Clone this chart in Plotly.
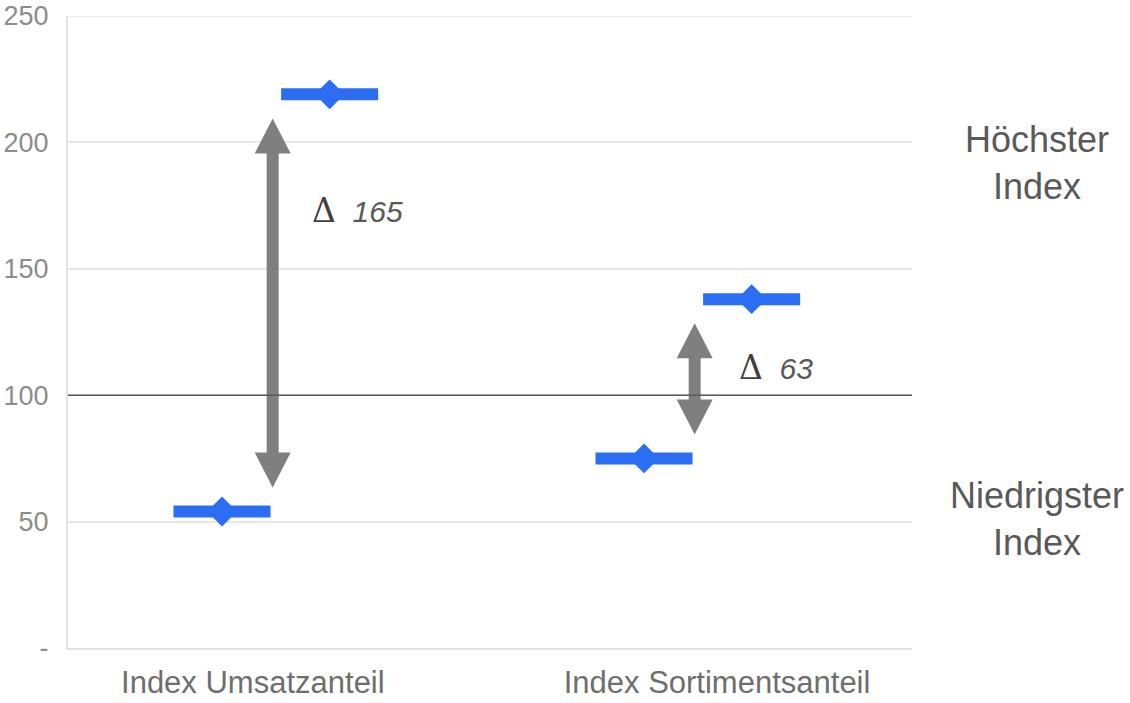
import plotly.graph_objects as go

# Index values per category (lowest / highest)
categories = ["Index Umsatzanteil", "Index Sortimentsanteil"]
low_index = [54, 75]
high_index = [219, 138]
y_tickvals = [0, 50, 100, 150, 200, 250]
y_ticktext = ["-", "50", "100", "150", "200", "250"]
side_labels = ["Höchster<br>Index", "Niedrigster<br>Index"]

BLUE = "#2b6ef4"
GREY_ARROW = "#7f7f7f"
TEXT_DARK = "#595959"
GRID = "#e6e6e6"

# layout geometry
cat_x = [0.5, 1.5]
low_off, high_off = -0.12, 0.135
half_bar = 0.115
x_range = [0.015, 2.015]
y_range = [0, 250]
label_tick_off = [-0.047, 0.053]
delta_label_dx = [0.088, 0.1]
delta_label_y = [173, 111]

plot_w_px = 844
plot_h_px = 632
ux = (x_range[1] - x_range[0]) / plot_w_px   # data units per pixel (x)
uy = (y_range[1] - y_range[0]) / plot_h_px   # data units per pixel (y)

fig = go.Figure()

# horizontal bars with a diamond marker at each index value
for xs, ys in (([c + low_off for c in cat_x], low_index),
               ([c + high_off for c in cat_x], high_index)):
    fig.add_trace(go.Scatter(
        x=xs, y=ys, mode="markers",
        marker=dict(symbol="diamond", size=23, color=BLUE, line=dict(width=0)),
        error_x=dict(type="constant", value=half_bar, thickness=12,
                     width=0, color=BLUE),
        showlegend=False, hoverinfo="y",
    ))

# double-headed arrows spanning low -> high
pad = 9.5
head_len = 35 * uy
head_hw = 18 * ux
shaft_hw = 6 * ux
shapes = []
for c, lo, hi in zip(cat_x, low_index, high_index):
    y0, y1 = lo + pad, hi - pad
    pts = [
        (c, y1),
        (c + head_hw, y1 - head_len),
        (c + shaft_hw, y1 - head_len),
        (c + shaft_hw, y0 + head_len),
        (c + head_hw, y0 + head_len),
        (c, y0),
        (c - head_hw, y0 + head_len),
        (c - shaft_hw, y0 + head_len),
        (c - shaft_hw, y1 - head_len),
        (c - head_hw, y1 - head_len),
    ]
    path = "M " + " L ".join(f"{px},{py}" for px, py in pts) + " Z"
    shapes.append(dict(type="path", path=path, xref="x", yref="y",
                       fillcolor=GREY_ARROW, line=dict(width=0), layer="above"))

# top gridline at the upper edge of the range
shapes.append(dict(type="line", xref="paper", yref="y", x0=0, x1=1,
                   y0=y_range[1], y1=y_range[1],
                   line=dict(color=GRID, width=1.5), layer="below"))

# reference line at index 100
shapes.append(dict(type="line", xref="paper", yref="y", x0=0, x1=1, y0=100, y1=100,
                   line=dict(color="#595959", width=1.5), layer="above"))

annotations = []
for c, lo, hi, dx, ly in zip(cat_x, low_index, high_index, delta_label_dx, delta_label_y):
    annotations.append(dict(
        x=c + dx, y=ly, xref="x", yref="y", xanchor="left", yanchor="middle",
        showarrow=False,
        text=(f'<span style="font-family:DejaVu Serif;font-size:33px;color:#404040">Δ</span>'
              f'&nbsp;&nbsp;<i>{hi - lo}</i>'),
        font=dict(family="Liberation Sans, Arial", size=30, color=TEXT_DARK),
    ))

for txt, ly in zip(side_labels, [192, 51]):
    annotations.append(dict(
        x=1.148, y=ly, xref="paper", yref="y", xanchor="center", yanchor="middle",
        showarrow=False, text=txt, align="center",
        font=dict(family="Liberation Sans, Arial", size=36, color=TEXT_DARK),
    ))

fig.update_layout(
    width=1130, height=703,
    margin=dict(l=68, r=218, t=16, b=55),
    paper_bgcolor="white", plot_bgcolor="white",
    shapes=shapes, annotations=annotations,
    xaxis=dict(
        range=x_range, showgrid=False, zeroline=False, automargin=False,
        showline=True, linecolor="#e3e3e3", linewidth=2,
        tickvals=[c + o for c, o in zip(cat_x, label_tick_off)],
        ticktext=categories, ticks="", ticklabeloverflow="allow",
        tickfont=dict(family="Liberation Sans, Arial", size=31, color="#6e6e6e"),
        ticklabelstandoff=6,
    ),
    yaxis=dict(
        range=y_range, tickvals=y_tickvals, ticktext=y_ticktext, automargin=False,
        showgrid=True, gridcolor=GRID, gridwidth=1.5, zeroline=False,
        showline=True, linecolor="#e3e3e3", linewidth=2, ticks="",
        ticklabeloverflow="allow",
        tickfont=dict(family="Liberation Sans, Arial", size=27, color="#8c8c8c"),
        ticklabelstandoff=12,
    ),
)

fig.write_html("out.html")
